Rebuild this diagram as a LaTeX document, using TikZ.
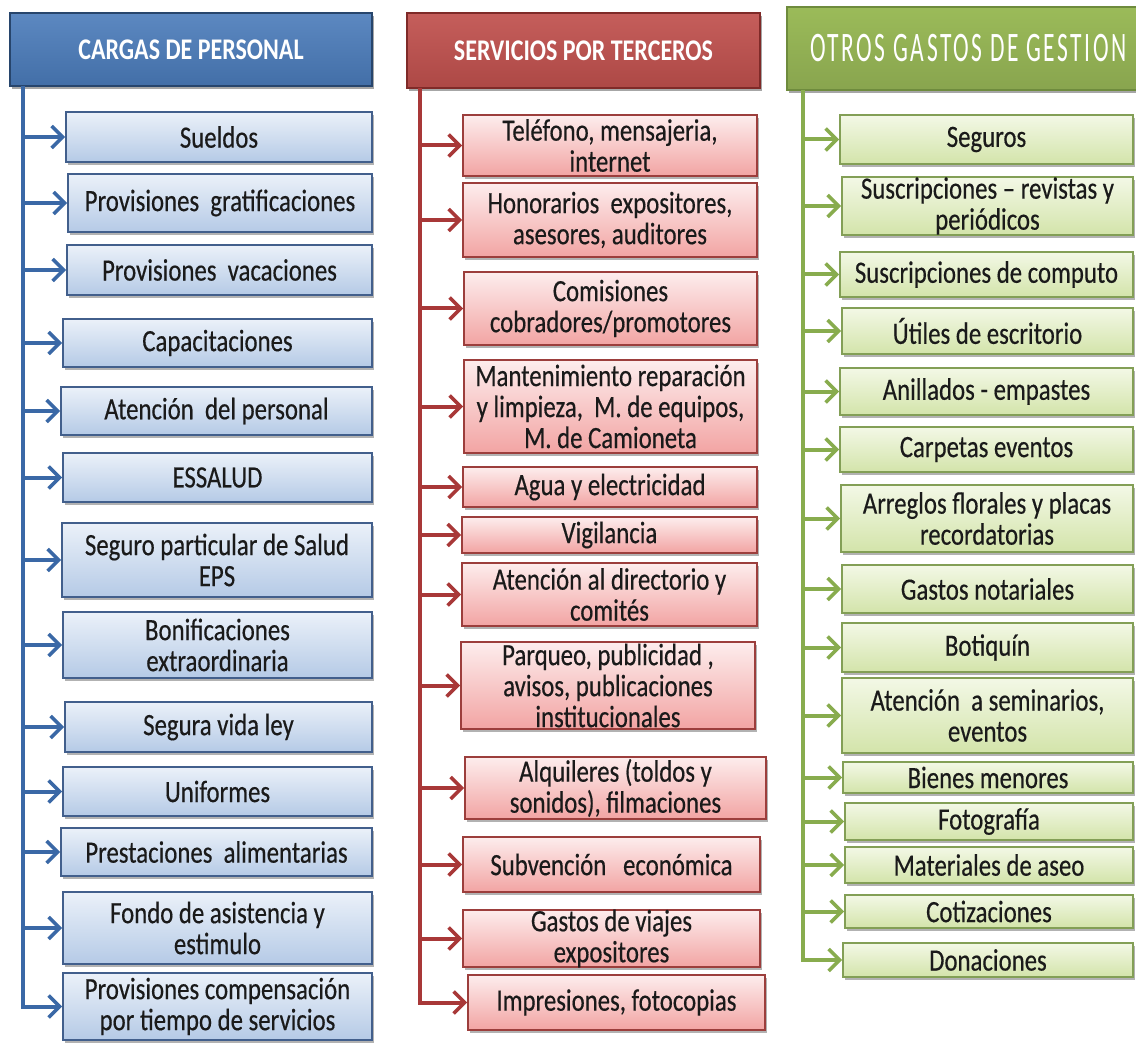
\documentclass[tikz,border=0pt]{standalone}
\usepackage{fontspec}
\usetikzlibrary{arrows.meta,shadows}
\newfontfamily\bodyfont[FakeStretch=0.8,FakeBold=0.4]{Carlito}
\newfontfamily\headfont[FakeStretch=0.8]{Carlito}
\newfontfamily\greenfont[FakeStretch=0.56,LetterSpace=6]{Carlito}
\definecolor{txt}{HTML}{1A1A1A}
\definecolor{bline}{HTML}{3A68A6}
\definecolor{rline}{HTML}{A83838}
\definecolor{gline}{HTML}{88AC4E}
\definecolor{bhead}{HTML}{4A7BBA}
\definecolor{bheadd}{HTML}{27456C}
\definecolor{rhead}{HTML}{C0504D}
\definecolor{rheadd}{HTML}{7F2A28}
\definecolor{ghead}{HTML}{9BBB59}
\definecolor{gheadd}{HTML}{6E8B3D}
\definecolor{btop}{HTML}{EBF1F9}
\definecolor{bbot}{HTML}{B5CAE6}
\definecolor{bbord}{HTML}{425F8C}
\definecolor{rtop}{HTML}{FDEDED}
\definecolor{rbot}{HTML}{F2A4A3}
\definecolor{rbord}{HTML}{9C3E3C}
\definecolor{gtop}{HTML}{F3F8E6}
\definecolor{gbot}{HTML}{D3E4AA}
\definecolor{gbord}{HTML}{839F56}
\tikzset{
  basebox/.style={rectangle, align=center, inner xsep=2pt, inner ysep=0pt, line width=1.8pt,
    font=\bodyfont\fontsize{31}{31}\selectfont, text=txt,
    drop shadow={shadow xshift=1.5pt, shadow yshift=-3pt, opacity=0.3, fill=black}},
  bluebox/.style={basebox, draw=bbord, top color=btop, bottom color=bbot},
  redbox/.style={basebox, draw=rbord, top color=rtop, bottom color=rbot},
  greenbox/.style={basebox, draw=gbord, top color=gtop, bottom color=gbot},
  headbox/.style={rectangle, align=center, inner sep=0pt, line width=2pt, text=white,
    font=\headfont\bfseries\fontsize{30}{31}\selectfont,
    drop shadow={shadow xshift=2pt, shadow yshift=-3pt, opacity=0.35, fill=black}},
  conn/.style={line width=4pt, -{Straight Barb[length=11pt,width=22pt,line width=3.5pt]}},
  bconn/.style={conn, draw=bline},
  rconn/.style={conn, draw=rline},
  gconn/.style={conn, draw=gline},
}
\newcommand\bx[7]{\node[#2, minimum width={(#5-#3)*1pt}, minimum height={(#6-#4)*1pt}] (#1) at ({(#3+#5)/2},{(#4+#6)/2}) {#7};}
\begin{document}
\begin{tikzpicture}[x=1pt,y=-1pt]
\useasboundingbox[fill=white] (0,0) rectangle (1136,1043);
% headers
\bx{h1}{headbox, draw=bheadd, top color=bhead!90!white, bottom color=bhead!90!black}{10}{13}{372}{86}{CARGAS DE PERSONAL}
\bx{h2}{headbox, draw=rheadd, top color=rhead!92!white, bottom color=rhead!90!black}{407}{13}{760}{88}{SERVICIOS POR TERCEROS}
\bx{h3}{headbox, draw=gheadd, top color=ghead, bottom color=ghead!88!black, font=\greenfont\fontsize{42}{44}\selectfont}{787}{7}{1150}{90}{OTROS GASTOS DE GESTION}
% blue column
\bx{b1}{bluebox}{66}{112}{372}{162}{Sueldos}
\bx{b2}{bluebox}{68}{174}{372}{232}{Provisiones\ \ gratificaciones}
\bx{b3}{bluebox}{67}{245}{372}{295}{Provisiones\ \ vacaciones}
\bx{b4}{bluebox}{63}{319}{372}{367}{Capacitaciones}
\bx{b5}{bluebox}{61}{387}{372}{435}{Atención\ \ del personal}
\bx{b6}{bluebox}{63}{453}{372}{502}{ESSALUD}
\bx{b7}{bluebox}{62}{523}{372}{597}{Seguro particular de Salud\\EPS}
\bx{b8}{bluebox}{63}{612}{372}{678}{Bonificaciones\\extraordinaria}
\bx{b9}{bluebox}{65}{702}{372}{752}{Segura vida ley}
\bx{b10}{bluebox}{63}{767}{372}{816}{Uniformes}
\bx{b11}{bluebox}{61}{828}{372}{876}{Prestaciones\ \ alimentarias}
\bx{b12}{bluebox}{63}{892}{372}{964}{Fondo de asistencia y\\estimulo}
\bx{b13}{bluebox}{63}{973}{372}{1040}{Provisiones compensación\\por tiempo de servicios}
% red column
\bx{r1}{redbox}{463}{115}{757}{176}{Teléfono, mensajeria,\\internet}
\bx{r2}{redbox}{463}{183}{757}{257}{Honorarios\ \ expositores,\\asesores, auditores}
\bx{r3}{redbox}{464}{272}{757}{345}{Comisiones\\cobradores/promotores}
\bx{r4}{redbox}{464}{360}{757}{453}{Mantenimiento reparación\\y limpieza,\ \ M. de equipos,\\M. de Camioneta}
\bx{r5}{redbox}{463}{467}{757}{507}{Agua y electricidad}
\bx{r6}{redbox}{462}{517}{757}{553}{Vigilancia}
\bx{r7}{redbox}{462}{563}{757}{626}{Atención al directorio y\\comités}
\bx{r8}{redbox}{461}{642}{755}{729}{Parqueo, publicidad ,\\avisos, publicaciones\\institucionales}
\bx{r9}{redbox}{465}{757}{766}{819}{Alquileres (toldos y\\sonidos), filmaciones}
\bx{r10}{redbox}{463}{837}{760}{892}{Subvención\ \ \ económica}
\bx{r11}{redbox}{463}{910}{760}{967}{Gastos de viajes\\expositores}
\bx{r12}{redbox}{468}{975}{765}{1030}{Impresiones, fotocopias}
% green column
\bx{g1}{greenbox}{840}{115}{1133}{164}{Seguros}
\bx{g2}{greenbox}{842}{177}{1133}{235}{Suscripciones – revistas y\\periódicos}
\bx{g3}{greenbox}{840}{252}{1133}{297}{Suscripciones de computo}
\bx{g4}{greenbox}{842}{308}{1133}{354}{Útiles de escritorio}
\bx{g5}{greenbox}{840}{368}{1133}{415}{Anillados - empastes}
\bx{g6}{greenbox}{840}{427}{1133}{472}{Carpetas eventos}
\bx{g7}{greenbox}{841}{485}{1133}{552}{Arreglos florales y placas\\recordatorias}
\bx{g8}{greenbox}{842}{565}{1133}{613}{Gastos notariales}
\bx{g9}{greenbox}{842}{623}{1133}{672}{Botiquín}
\bx{g10}{greenbox}{842}{678}{1133}{753}{Atención\ \ a seminarios,\\eventos}
\bx{g11}{greenbox}{843}{762}{1133}{793}{Bienes menores}
\bx{g12}{greenbox}{845}{803}{1133}{840}{Fotografía}
\bx{g13}{greenbox}{845}{847}{1133}{883}{Materiales de aseo}
\bx{g14}{greenbox}{845}{895}{1133}{928}{Cotizaciones}
\bx{g15}{greenbox}{843}{943}{1133}{977}{Donaciones}
% trunk coordinates
\coordinate (vb) at (23,86);
\coordinate (vr) at (420,88);
\coordinate (vg) at (803,90);
% connectors
\foreach \i in {1,...,12} {\draw[bconn] (vb |- b\i.west) -- (b\i.west);}
\draw[bconn] (vb) |- (b13.west);
\foreach \i in {1,...,11} {\draw[rconn] (vr |- r\i.west) -- (r\i.west);}
\draw[rconn] (vr) |- (r12.west);
\foreach \i in {1,...,14} {\draw[gconn] (vg |- g\i.west) -- (g\i.west);}
\draw[gconn] (vg) |- (g15.west);
\end{tikzpicture}
\end{document}
